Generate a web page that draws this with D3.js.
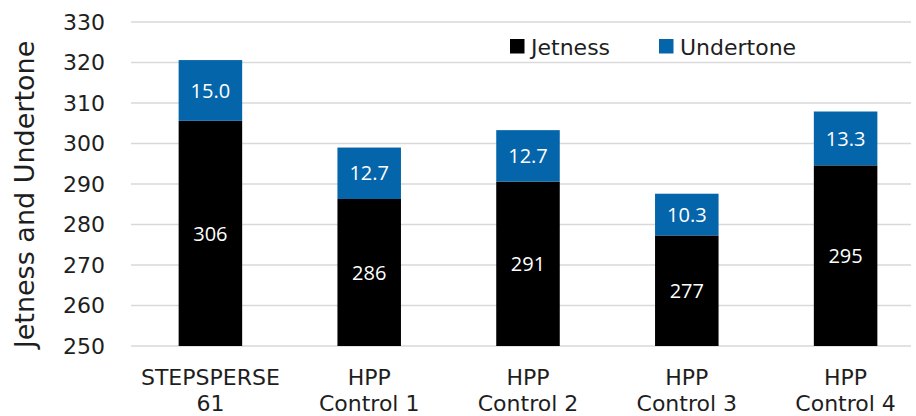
<!DOCTYPE html>
<html>
<head>
<meta charset="utf-8">
<script src="https://cdn.jsdelivr.net/npm/d3@7"></script>
<style>
  html, body { margin: 0; padding: 0; background: #fff; }
  svg text { font-family: "DejaVu Sans", sans-serif; fill: #1e1e1e; }
  svg text.val { font-family: "Open Sans", sans-serif; fill: #fff; font-size: 20px; }
</style>
</head>
<body>
<svg id="chart" width="916" height="416"></svg>
<script>
// data
const categories = [["STEPSPERSE", "61"], ["HPP", "Control 1"], ["HPP", "Control 2"], ["HPP", "Control 3"], ["HPP", "Control 4"]];
const jetness = [305.6, 286.3, 290.6, 277.3, 294.6];
const undertone = [15.0, 12.7, 12.7, 10.3, 13.3];
const yTicks = [250, 260, 270, 280, 290, 300, 310, 320, 330];
const seriesNames = ["Jetness", "Undertone"];
const colors = ["#000000", "#0565AA"];

const svg = d3.select("#chart");
const plotLeft = 131, plotRight = 911, plotTop = 22, plotBottom = 346;

const x = d3.scaleBand()
  .domain(d3.range(categories.length))
  .range([plotLeft, plotLeft + 158.8 * categories.length])
  .paddingInner(0.6)
  .paddingOuter(0.3);

const y = d3.scaleLinear().domain([250, 330]).range([plotBottom, plotTop]);

// gridlines
svg.append("g").selectAll("line")
  .data(yTicks)
  .join("line")
  .attr("x1", plotLeft).attr("x2", plotRight)
  .attr("y1", d => y(d)).attr("y2", d => y(d))
  .attr("stroke", "#d9d9d9")
  .attr("stroke-width", 1.5);

// y tick labels
svg.append("g").selectAll("text")
  .data(yTicks)
  .join("text")
  .attr("x", 105)
  .attr("y", d => y(d))
  .attr("dy", "0.36em")
  .attr("text-anchor", "end")
  .style("font-size", "22px")
  .text(d => d);

// y axis title
svg.append("text")
  .attr("transform", "translate(33.5,194.5) rotate(-90)")
  .attr("text-anchor", "middle")
  .style("font-size", "27px")
  .text("Jetness and Undertone");

// stacked bars
const rows = jetness.map((j, i) => ({ i: i, j: j, u: undertone[i] }));

const bars = svg.append("g").selectAll("g")
  .data(rows)
  .join("g");

bars.append("rect")
  .attr("x", d => x(d.i))
  .attr("width", x.bandwidth())
  .attr("y", d => y(d.j))
  .attr("height", d => y(250) - y(d.j))
  .attr("fill", colors[0]);

bars.append("rect")
  .attr("x", d => x(d.i))
  .attr("width", x.bandwidth())
  .attr("y", d => y(d.j + d.u))
  .attr("height", d => y(d.j) - y(d.j + d.u))
  .attr("fill", colors[1]);

bars.append("text")
  .attr("class", "val")
  .attr("x", d => x(d.i) + x.bandwidth() / 2)
  .attr("y", d => (y(250) + y(d.j)) / 2)
  .attr("dy", "0.36em")
  .attr("text-anchor", "middle")
  .text(d => d3.format(".0f")(d.j));

bars.append("text")
  .attr("class", "val")
  .attr("x", d => x(d.i) + x.bandwidth() / 2)
  .attr("y", d => (y(d.j) + y(d.j + d.u)) / 2)
  .attr("dy", "0.36em")
  .attr("text-anchor", "middle")
  .text(d => d3.format(".1f")(d.u));

// category labels, two lines each
const cat = svg.append("g").selectAll("text")
  .data(categories)
  .join("text")
  .attr("text-anchor", "middle")
  .style("font-size", "22px");

cat.selectAll("tspan")
  .data((d, i) => d.map(s => ({ s: s, i: i })))
  .join("tspan")
  .attr("x", d => x(d.i) + x.bandwidth() / 2)
  .attr("y", (d, k) => 385 + k * 26)
  .text(d => d.s);

// legend
const legendX = [510, 659];
const legend = svg.append("g").selectAll("g")
  .data(seriesNames)
  .join("g")
  .attr("transform", (d, i) => "translate(" + legendX[i] + ",39)");

legend.append("rect")
  .attr("width", 14.5).attr("height", 14.5)
  .attr("fill", (d, i) => colors[i]);

legend.append("text")
  .attr("x", 21)
  .attr("y", 16)
  .style("font-size", "22px")
  .text(d => d);
</script>
</body>
</html>
